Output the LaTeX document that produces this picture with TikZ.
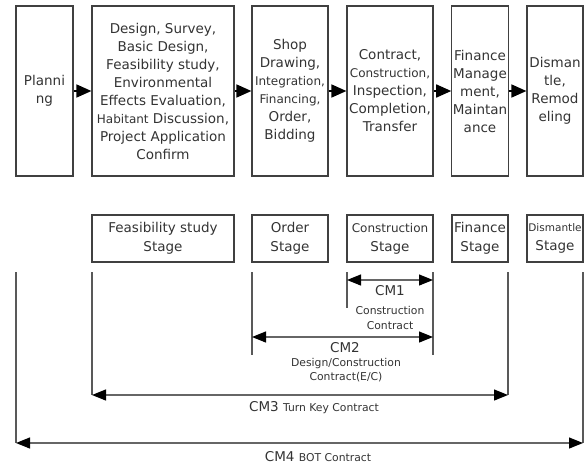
\documentclass[tikz,border=0pt]{standalone}
\usepackage{fontspec}
\setmainfont{DejaVu Sans}
\usetikzlibrary{arrows.meta,positioning}

\newcommand{\smtxt}[1]{{\fontsize{12}{18}\selectfont #1}}
\tikzset{
  phase/.style={draw=black!75,line width=1.2pt,minimum height=170pt,align=center,inner sep=1pt,text=black!80,font=\fontsize{13.5}{18}\selectfont},
  stage/.style={draw=black!75,line width=1.2pt,minimum height=47pt,align=center,inner sep=1pt,text=black!80,font=\fontsize{13.5}{19}\selectfont},
  flow/.style={line width=1.6pt,-{Triangle[length=15pt,width=13pt]}},
  guide/.style={black!65,line width=1.2pt},
  span/.style={black!60,line width=1.2pt,{Triangle[length=14pt,width=11pt,color=black]}-{Triangle[length=14pt,width=11pt,color=black]}},
  cmlab/.style={text=black!80,inner sep=1pt,font=\fontsize{13.5}{16}\selectfont},
  sublab/.style={text=black!80,inner sep=1pt,align=center,font=\fontsize{10.8}{14.5}\selectfont}
}

\begin{document}
\begin{tikzpicture}[x=1pt,y=-1pt]
\useasboundingbox (0,0) rectangle (587,464);
% process phases
\node[phase,minimum width=57pt] (p0) at (44.5,91) {Planni\\ng};
\node[phase,minimum width=142pt] (p1) at (163,91) {Design, Survey,\\Basic Design,\\Feasibility study,\\Environmental\\Effects Evaluation,\\\smtxt{Habitant} Discussion,\\Project Application\\Confirm};
\node[phase,minimum width=76pt] (p2) at (290,91) {Shop\\Drawing,\\\smtxt{Integration,}\\\smtxt{Financing,}\\Order,\\Bidding};
\node[phase,minimum width=86pt] (p3) at (390,91) {Contract,\\\smtxt{Construction,}\\Inspection,\\Completion,\\Transfer};
\node[phase,minimum width=56pt] (p4) at (480,91) {Finance\\Manage\\ment,\\Maintan\\ance};
\node[phase,minimum width=56pt] (p5) at (555,91) {Disman\\tle,\\Remod\\eling};
\foreach \a/\b in {p0/p1,p1/p2,p2/p3,p3/p4,p4/p5}
  \draw[flow] (\a) -- (\b);

% stages
\node[stage,minimum width=142pt] (s0) at (163,238.5) {Feasibility study\\Stage};
\node[stage,minimum width=76pt] (s1) at (290,238.5) {Order\\Stage};
\node[stage,minimum width=86pt] (s2) at (390,238.5) {\smtxt{Construction}\\Stage};
\node[stage,minimum width=56pt] (s3) at (480,238.5) {Finance\\Stage};
\node[stage,minimum width=56pt] (s4) at (555,238.5) {{\fontsize{10.5}{14}\selectfont Dismantle}\\Stage};

% contract ranges
\foreach \n/\x/\y in {a/16/443,b/92/395,c/252/355,d/347/308,e/433/355,f/508/395,g/583/443} {
  \coordinate (top\n) at (\x,272);
  \coordinate (bot\n) at (\x,\y);
  \draw[guide] (top\n) -- (bot\n);
}
\coordinate (cm1l) at (347,280);
\coordinate (cm1r) at (433,280);
\coordinate (cm2l) at (252,337);
\coordinate (cm2r) at (433,337);
\draw[span] (cm1l) -- (cm1r);
\draw[span] (cm2l) -- (cm2r);
\draw[span] (botb) -- (botf);
\draw[span] (bota) -- (botg);

\node[cmlab] (cm1) at (390,291) {CM1};
\node[sublab] (cm1s) at (390,318) {Construction\\Contract};
\node[cmlab] (cm2) at (345,348) {CM2};
\node[sublab] (cm2s) at (346,370) {Design/Construction\\Contract(E/C)};
\node[cmlab] (cm3) at (314,408) {CM3 {\fontsize{10.8}{14}\selectfont Turn Key Contract}};
\node[cmlab] (cm4) at (318,457) {CM4 {\fontsize{10.8}{14}\selectfont BOT Contract}};
\end{tikzpicture}
\end{document}
